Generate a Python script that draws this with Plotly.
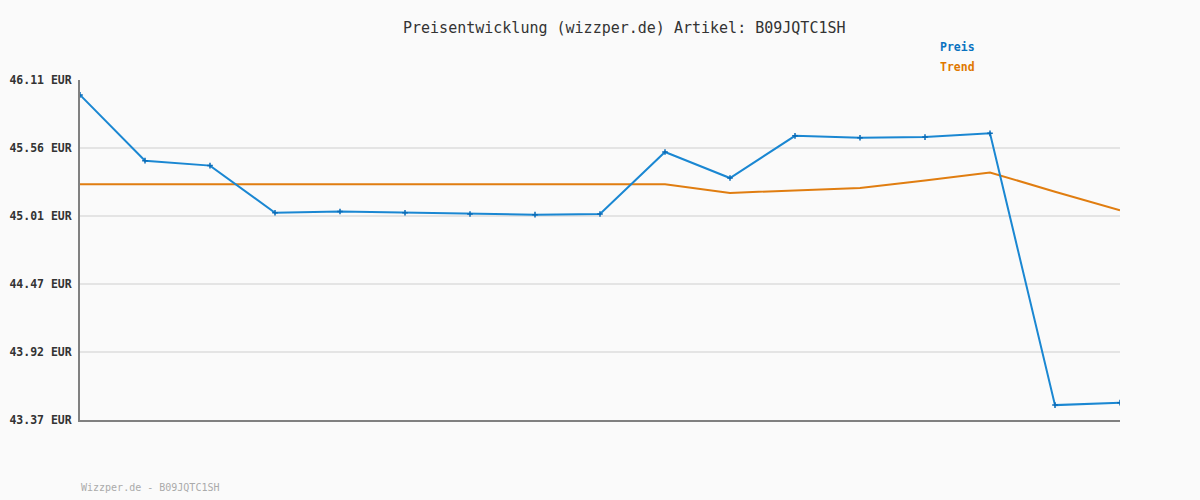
import plotly.graph_objects as go
import numpy as np

x_idx = list(range(17))
preis = [45.99, 45.46, 45.42, 45.04, 45.05, 45.04, 45.03, 45.025, 45.03,
         45.53, 45.32, 45.66, 45.645, 45.65, 45.68, 43.49, 43.51]
trend = [45.27, 45.27, 45.27, 45.27, 45.27, 45.27, 45.27, 45.27, 45.27,
         45.27, 45.20, 45.22, 45.24, 45.30, 45.365, 45.21, 45.06]
y_min, y_max = 43.37, 46.11
tick_vals = list(np.linspace(y_min, y_max, 6))
tick_text = ["43.37 EUR", "43.92 EUR", "44.47 EUR", "45.01 EUR", "45.56 EUR", "46.11 EUR"]

MONO = "DejaVu Sans Mono"
fig = go.Figure()
fig.add_trace(go.Scatter(x=x_idx, y=trend, mode="lines", name="Trend",
                         line=dict(color="#e07d10", width=2), hoverinfo="skip"))
fig.add_trace(go.Scatter(x=x_idx, y=preis, mode="lines+markers", name="Preis",
                         line=dict(color="#1a87d2", width=2),
                         marker=dict(symbol="cross-thin", size=4, color="#0a6cb8",
                                     line=dict(color="#0a6cb8", width=1.5))))

fig.update_layout(
    width=1200, height=500,
    paper_bgcolor="#fafafa", plot_bgcolor="#fafafa",
    margin=dict(l=80, r=80, t=80, b=80, autoexpand=False),
    showlegend=False,
    xaxis=dict(range=[0, 16], showgrid=False, zeroline=False, showticklabels=False,
               showline=True, linecolor="#808080", linewidth=2, ticks="", automargin=False),
    yaxis=dict(range=[y_min, y_max], tickvals=tick_vals, ticktext=tick_text,
               showgrid=True, gridcolor="#e4e4e4", gridwidth=2, zeroline=False,
               showline=True, linecolor="#808080", linewidth=2, ticks="", automargin=False,
               tickfont=dict(family=MONO, size=11.5, color="#333333", weight="bold"),
               ticklabelstandoff=4),
    annotations=[
        dict(text="Preisentwicklung (wizzper.de) Artikel: B09JQTC1SH", xref="paper", yref="paper",
             x=(624 - 80) / 1040, y=1.0, yshift=52, xanchor="center", yanchor="middle",
             showarrow=False, font=dict(family=MONO, size=15, color="#333333")),
        dict(text="<b>Preis</b>", xref="paper", yref="paper", x=(957 - 80) / 1040, y=1.0, yshift=33,
             xanchor="center", yanchor="middle",
             showarrow=False, font=dict(family=MONO, size=11.5, color="#0a72c0")),
        dict(text="<b>Trend</b>", xref="paper", yref="paper", x=(957 - 80) / 1040, y=1.0, yshift=13,
             xanchor="center", yanchor="middle",
             showarrow=False, font=dict(family=MONO, size=11.5, color="#e07800")),
        dict(text="Wizzper.de - B09JQTC1SH", xref="paper", yref="paper", x=0, y=0, yshift=-67,
             xshift=-1, xanchor="left", yanchor="middle", showarrow=False,
             font=dict(family=MONO, size=10, color="#aaaaaa")),
    ],
)
fig.write_html("out.html", config={"displayModeBar": False},
               post_script="document.body.style.margin='0';document.body.style.background='#fafafa';")
